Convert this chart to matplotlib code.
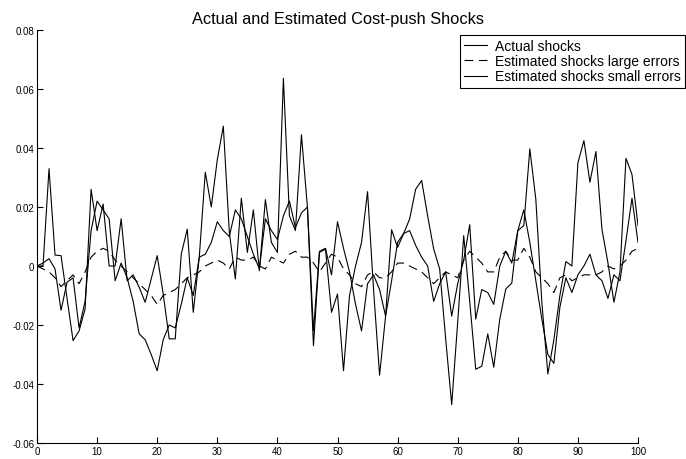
import numpy as np
import matplotlib
matplotlib.use('Agg')
import matplotlib.pyplot as plt

plt.rcParams['font.family'] = ['Liberation Sans', 'DejaVu Sans']

# periods 0..100
periods = np.arange(0, 101)

actual = [0.0, 0.0, 0.033, 0.0037, 0.0035, -0.011, -0.0253, -0.022, -0.0146, 0.026,
          0.012, 0.021, 0.0, 0.0, 0.016, -0.005, -0.003, -0.0072, -0.0123, -0.0044,
          0.0035, -0.0095, -0.0247, -0.0247, 0.004, 0.0125, -0.0157, 0.003, 0.0318, 0.02,
          0.036, 0.0474, 0.0114, -0.0044, 0.023, 0.0046, 0.019, -0.0016, 0.0225, 0.008,
          0.0046, 0.0636, 0.017, 0.012, 0.0445, 0.0198, -0.027, 0.0046, 0.0057, -0.0157,
          -0.0095, -0.0355, -0.01, 0.0, 0.008, 0.0252, -0.008, -0.037, -0.017, 0.0123,
          0.0063, 0.011, 0.0159, 0.026, 0.029, 0.017, 0.0058, -0.001, -0.0247, -0.047,
          -0.019, 0.0103, -0.012, -0.035, -0.034, -0.023, -0.0343, -0.018, -0.0078, -0.0058,
          0.012, 0.0137, 0.0397, 0.0226, -0.0123, -0.0366, -0.025, -0.01, 0.0015, 0.0,
          0.035, 0.0425, 0.0284, 0.0388, 0.0125, 0.001, -0.0123, -0.002, 0.0365, 0.031,
          0.0137]

est_large = [0.0, -0.001, -0.002, -0.004, -0.007, -0.005, -0.003, -0.006, -0.002, 0.003,
             0.005, 0.006, 0.005, 0.002, 0.0, -0.002, -0.004, -0.006, -0.008, -0.010,
             -0.013, -0.010, -0.009, -0.008, -0.006, -0.004, -0.003, -0.002, 0.0, 0.001,
             0.002, 0.001, -0.001, 0.003, 0.002, 0.002, 0.003, 0.0, -0.001, 0.003,
             0.002, 0.001, 0.004, 0.005, 0.003, 0.003, 0.001, -0.002, 0.001, 0.004,
             0.003, -0.001, -0.003, -0.006, -0.007, -0.003, -0.002, -0.004, -0.004, -0.002,
             0.001, 0.001, 0.0, -0.001, -0.002, -0.004, -0.006, -0.004, -0.002, -0.003,
             -0.004, 0.002, 0.005, 0.003, 0.001, -0.002, -0.002, 0.003, 0.005, 0.002,
             0.002, 0.006, 0.003, -0.002, -0.004, -0.006, -0.009, -0.004, -0.003, -0.005,
             -0.004, -0.003, -0.003, -0.003, -0.002, 0.0, -0.001, 0.0, 0.002, 0.005,
             0.006]

est_small = [0.0, 0.001, 0.0025, -0.001, -0.015, -0.0055, -0.004, -0.021, -0.012, 0.012,
             0.022, 0.019, 0.016, -0.005, 0.001, -0.004, -0.012, -0.023, -0.025, -0.03,
             -0.0355, -0.025, -0.02, -0.021, -0.013, -0.004, -0.01, 0.003, 0.004, 0.008,
             0.015, 0.012, 0.01, 0.019, 0.016, 0.01, 0.004, -0.001, 0.016, 0.012,
             0.009, 0.017, 0.022, 0.013, 0.018, 0.02, -0.022, 0.005, 0.006, -0.003,
             0.015, 0.006, -0.002, -0.013, -0.022, -0.006, -0.003, -0.008, -0.017, -0.005,
             0.008, 0.011, 0.012, 0.007, 0.003, 0.0, -0.012, -0.006, -0.002, -0.017,
             -0.006, 0.002, 0.014, -0.018, -0.008, -0.009, -0.013, 0.0, 0.005, 0.001,
             0.012, 0.019, 0.008, -0.005, -0.018, -0.03, -0.033, -0.014, -0.004, -0.009,
             -0.003, 0.0, 0.004, -0.003, -0.005, -0.011, -0.003, -0.005, 0.0086, 0.023,
             0.008]

xticks = np.arange(0, 101, 10)
yticks = [-0.06, -0.04, -0.02, 0, 0.02, 0.04, 0.06, 0.08]
ytick_labels = ['-0.06', '-0.04', '-0.02', '0', '0.02', '0.04', '0.06', '0.08']

fig = plt.figure(figsize=(6.86, 4.6), dpi=100)
ax = fig.add_axes([37 / 686, 1 - 444 / 460, 601 / 686, 413 / 460])

lw = 0.8
ax.plot(periods, actual, '-', color='black', linewidth=lw, label='Actual shocks')
ax.plot(periods, est_large, color='black', linewidth=lw, linestyle=(0, (8, 5)),
        label='Estimated shocks large errors')
ax.plot(periods, est_small, '-', color='black', linewidth=lw, label='Estimated shocks small errors')

ax.set_xlim(0, 100)
ax.set_ylim(-0.06, 0.08)
ax.set_xticks(xticks)
ax.set_xticklabels([str(t) for t in xticks])
ax.set_yticks(yticks)
ax.set_yticklabels(ytick_labels)
ax.tick_params(direction='in', length=4, width=0.8, labelsize=7, pad=2)
ax.spines['top'].set_visible(False)
ax.spines['right'].set_visible(False)
for s in ('left', 'bottom'):
    ax.spines[s].set_linewidth(0.8)

ax.set_title('Actual and Estimated Cost-push Shocks', fontsize=11.8, pad=5)

leg = ax.legend(loc='upper right', bbox_to_anchor=(685 / 686, 1 - 35.5 / 460),
                bbox_transform=fig.transFigure, fontsize=10, frameon=True,
                fancybox=False, framealpha=1, edgecolor='black',
                handlelength=1.65, handletextpad=0.55, labelspacing=0.1,
                borderpad=0.3, borderaxespad=0)
leg.get_frame().set_linewidth(0.8)

fig.savefig('out.png', dpi=100)
